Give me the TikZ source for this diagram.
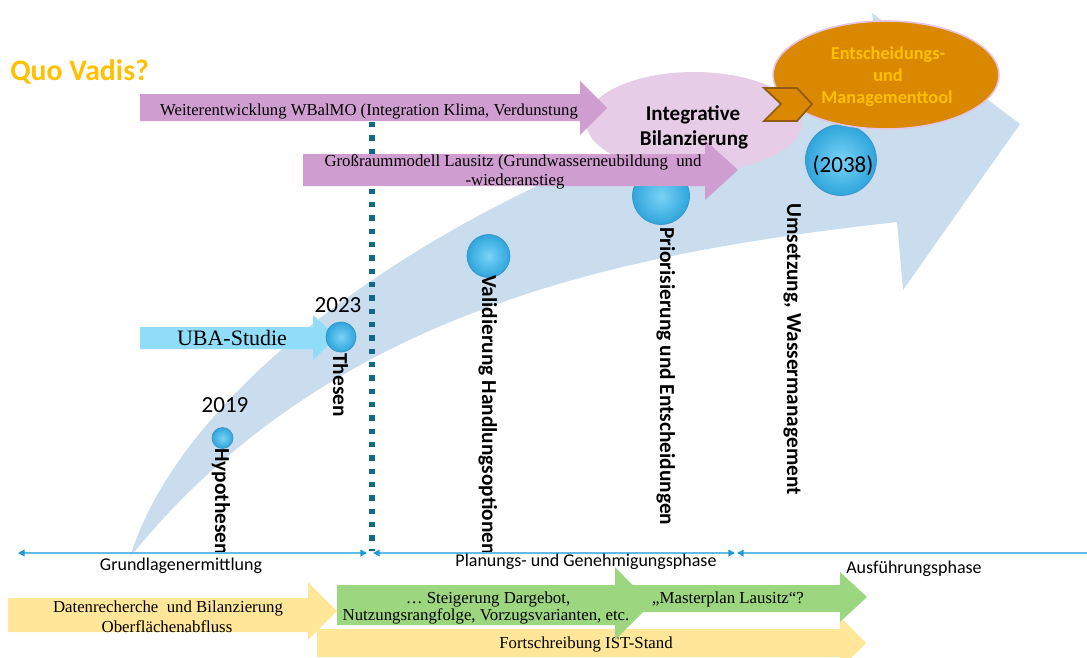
\documentclass[tikz,border=0pt]{standalone}
\usepackage{fontspec}
\setmainfont{Liberation Serif}
\newfontfamily\calibri{Carlito}
\usetikzlibrary{shapes.geometric,arrows.meta}
\definecolor{bigblue}{HTML}{C9DDEF}
\definecolor{lila}{HTML}{CF9DCF}
\definecolor{lilalight}{HTML}{E6CCE6}
\definecolor{toolorange}{HTML}{D98800}
\definecolor{toolrim}{HTML}{E3C4E3}
\definecolor{chevrim}{HTML}{8E5B0F}
\definecolor{gold}{HTML}{FFC000}
\definecolor{uba}{HTML}{8FDDF9}
\definecolor{ballin}{HTML}{7AD3F6}
\definecolor{ballout}{HTML}{2FA5DC}
\definecolor{ballrim}{HTML}{3B93C3}
\definecolor{dotcol}{HTML}{12678A}
\definecolor{tlcol}{HTML}{62BCE6}
\definecolor{tltip}{HTML}{1D9BD8}
\definecolor{yel}{HTML}{FFE699}
\definecolor{grn}{HTML}{9CD67F}
\begin{document}
\begin{tikzpicture}[x=0.75pt,y=-0.75pt,
  ball/.style={circle, inner sep=0pt, inner color=ballin, outer color=ballout, draw=ballrim, line width=0.5pt},
  rlabel/.style={rotate=-90, anchor=base west, inner sep=0pt, font=\calibri\bfseries\fontsize{16}{18}\selectfont},
  txt/.style={anchor=base, inner sep=0pt},
  serifA/.style={txt, font=\fontsize{12.5}{15}\selectfont},
  serifB/.style={txt, font=\fontsize{12.6}{14}\selectfont},
  yearlbl/.style={txt, font=\calibri\fontsize{17.3}{20}\selectfont},
  phase/.style={txt, font=\calibri\fontsize{13.5}{16}\selectfont},
  tooltxt/.style={txt, text=gold, font=\calibri\bfseries\fontsize{13.7}{16}\selectfont},
  integtxt/.style={txt, font=\calibri\bfseries\fontsize{15.8}{19}\selectfont},
  tline/.style={draw=tlcol, line width=1.1pt},
  dots/.style={draw=dotcol, line width=4.2pt, dash pattern=on 4pt off 6pt}
]
\useasboundingbox (0,0) rectangle (1087,657);
\clip (0,0) rectangle (1087,657);

% large curved arrow in the background
\fill[bigblue] (130,557) .. controls (200,330) and (600,112) .. (880,81)
  -- (872,13) -- (1020,124) -- (903,290) -- (897,222)
  .. controls (620,253) and (330,310) .. (130,557) -- cycle;

% dotted divider between the phases
\coordinate (divtop) at (372,122);
\coordinate (divbot) at (372,551);
\draw[dots] (divtop) -- (divbot);

% milestone balls
\node[ball, minimum size=15.75pt] (b2019) at (222.5,438) {};
\node[ball, minimum size=32.25pt] (bvalid) at (488.5,256) {};
\node[ball, minimum size=42.75pt] (bprior) at (661,196) {};
\node[ball, minimum size=53.25pt] (b2038) at (841,160) {};

% UBA study arrow and ball 2023
\fill[uba] (140,327) -- (313,327) -- (313,315) -- (337,337) -- (313,360) -- (313,349) -- (140,349) -- cycle;
\node[txt, font=\fontsize{16.5}{19}\selectfont] (uba) at (232,345) {UBA-Studie};
\node[ball, minimum size=22.5pt] (b2023) at (341,337) {};

% integrative balance ellipse
\node[ellipse, fill=lilalight, inner sep=0pt, minimum width=162pt, minimum height=75pt] (integ) at (694,122) {};

% model development arrows
\fill[lila] (140,94) -- (580,94) -- (580,81) -- (607,108) -- (580,135) -- (580,121) -- (140,121) -- cycle;
\node[serifA] (wbal) at (369,115) {Weiterentwicklung WBalMO (Integration Klima, Verdunstung};
\fill[lila] (303,154) -- (705,154) -- (705,140) -- (738,170) -- (705,200) -- (705,186) -- (303,186) -- cycle;
\node[serifB] (gross1) at (513,166) {Großraummodell Lausitz (Grundwasserneubildung\ \ und};
\node[serifB] (gross2) at (515,185) {-wiederanstieg};

\node[integtxt] (integ1) at (693,120) {Integrative};
\node[integtxt] (integ2) at (694,145) {Bilanzierung};

% decision and management tool
\node[ellipse, fill=toolorange, draw=toolrim, line width=1.2pt, inner sep=0pt, minimum width=169.5pt, minimum height=81pt] (tool) at (886,75) {};
\fill[toolorange, draw=chevrim, line width=1.3pt] (764,88) -- (797,88) -- (812,104) -- (797,121) -- (764,121) -- (781,104) -- cycle;
\node[tooltxt] (tool1) at (888,59) {Entscheidungs-};
\node[tooltxt] (tool2) at (888,81) {und};
\node[tooltxt] (tool3) at (887,103) {Managementtool};

% years
\node[yearlbl] (y2019) at (225,412) {2019};
\node[yearlbl] (y2023) at (338,312) {2023};
\node[yearlbl] (y2038) at (843,172) {(2038)};

% milestone labels
\node[rlabel] (hyp) at (215,448) {Hypothesen};
\node[rlabel] (thes) at (333,353) {Thesen};
\node[rlabel] (valid) at (482,275) {Validierung Handlungsoptionen};
\node[rlabel] (prior) at (660,227) {Priorisierung und Entscheidungen};
\node[rlabel] (ums) at (787,203) {Umsetzung, Wassermanagement};

% time line with phases
\coordinate (t0) at (18,553);
\coordinate (t1) at (367,553);
\coordinate (t2) at (373,553);
\coordinate (t3) at (735,553);
\coordinate (t4) at (737,553);
\coordinate (t5) at (1087,553);
\draw[tline, {Triangle[length=5pt,width=5pt,color=tltip]}-{Triangle[length=5pt,width=5pt,color=tltip]}] (t0) -- (t1);
\draw[tline, {Triangle[length=5pt,width=5pt,color=tltip]}-{Triangle[length=5pt,width=5pt,color=tltip]}] (t2) -- (t3);
\draw[tline, {Triangle[length=5pt,width=5pt,color=tltip]}-] (t4) -- (t5);
\node[phase] (ph1) at (181,570) {Grundlagenermittlung};
\node[phase] (ph2) at (586,566) {Planungs- und Genehmigungsphase};
\node[phase] (ph3) at (914,573) {Ausführungsphase};

% work packages
\fill[yel] (317,629) -- (840,629) -- (840,617) -- (866,643) -- (840,669) -- (840,657) -- (317,657) -- cycle;
\fill[yel] (8,598) -- (308,598) -- (308,582) -- (337,611) -- (308,640) -- (308,632) -- (8,632) -- cycle;
\node[serifB] (fort) at (586,648) {Fortschreibung IST-Stand};
\node[serifB] (daten1) at (168,612) {Datenrecherche\ \ und Bilanzierung};
\node[serifB] (daten2) at (167,632) {Oberflächenabfluss};
\fill[grn] (615,585) -- (840,585) -- (840,572) -- (867,597) -- (840,622) -- (840,612) -- (615,612) -- cycle;
\fill[grn] (337,585) -- (615,585) -- (615,567) -- (651,604) -- (615,640) -- (615,625) -- (337,625) -- cycle;
\node[serifB] (steig1) at (488,603) {… Steigerung Dargebot,};
\node[serifB] (steig2) at (486,620) {Nutzungsrangfolge, Vorzugsvarianten, etc.};
\node[serifB] (master) at (728,603) {„Masterplan Lausitz“?};

% title
\node[anchor=base west, inner sep=0pt, text=gold, font=\calibri\bfseries\fontsize{22.3}{26}\selectfont] (title) at (10,80) {Quo Vadis?};
\end{tikzpicture}
\end{document}
